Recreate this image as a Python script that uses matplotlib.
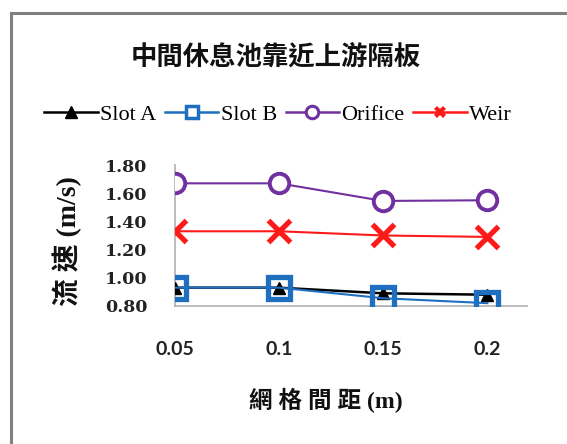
import matplotlib
matplotlib.use('Agg')
import matplotlib.pyplot as plt
from matplotlib.lines import Line2D
from matplotlib.patches import Rectangle

# data
spacing = ['0.05', '0.1', '0.15', '0.2']
slot_a = [0.93, 0.93, 0.89, 0.88]
slot_b = [0.93, 0.93, 0.855, 0.82]
orifice = [1.67, 1.67, 1.545, 1.55]
weir = [1.33, 1.33, 1.30, 1.29]
y_ticks = [0.80, 1.00, 1.20, 1.40, 1.60, 1.80]

title = '中間休息池靠近上游隔板'
xlabel = '網 格 間 距 (m)'
ylabel = '流 速 (m/s)'

cjk = ['Liberation Serif', 'Noto Sans CJK TC']

fig = plt.figure(figsize=(5.67, 4.44), dpi=100)
fig.patches.append(Rectangle((11 / 567, -0.1), 1.2, 1 - 13 / 444 + 0.1,
                             transform=fig.transFigure, fill=False,
                             edgecolor='#808080', linewidth=2.2))

ax = fig.add_axes([175 / 567, 1 - 306 / 444, (527 - 175) / 567, (306 - 165) / 444])
x = list(range(len(spacing)))

ax.plot(x, slot_a, color='black', lw=1.8, marker='^', ms=8, zorder=3)
ax.plot(x, slot_b, color='#1f6fc1', lw=1.5, marker='s', ms=16, mew=3.8,
        mfc='none', mec='#1f6fc1', zorder=4)
ax.plot(x, orifice, color='#7030a0', lw=1.5, marker='o', ms=14, mew=2.8,
        mfc='white', mec='#7030a0', zorder=3)
ax.plot(x, weir, color='#ff1a1a', lw=1.5, marker='x', ms=16, mew=3.8, zorder=3)

ax.set_xlim(0, 3.38)
ax.set_ylim(0.80, 1.80)
ax.set_xticks(x)
ax.set_xticklabels(spacing, family='Lato', fontsize=14, fontweight='bold', color='#222222')
ax.set_yticks(y_ticks)
ax.set_yticklabels([f'{v:.2f}' for v in y_ticks], family='DejaVu Serif',
                   fontsize=12.5, fontweight='bold', color='#222222')
ax.tick_params(axis='both', length=0)
ax.tick_params(axis='y', pad=20)
ax.tick_params(axis='x', pad=25)
for s in ['top', 'right']:
    ax.spines[s].set_visible(False)
for s in ['left', 'bottom']:
    ax.spines[s].set_color('#b0b0b0')
    ax.spines[s].set_linewidth(1.2)
ax.patch.set_visible(False)

fig.text(276 / 567, 1 - 57 / 444, title, ha='center', va='center',
         family=cjk, fontsize=19, fontweight='bold', color='#111111')
fig.text(326 / 567, 1 - 400 / 444, xlabel, ha='center', va='center',
         family=cjk, fontsize=17, fontweight='bold', color='#111111')
fig.text(67 / 567, 1 - 241 / 444, ylabel, ha='center', va='center', rotation=90,
         family=cjk, fontsize=20, fontweight='bold', color='#111111')

handles = [
    Line2D([], [], color='black', lw=1.8, marker='^', ms=8),
    Line2D([], [], color='#1f6fc1', lw=1.8, marker='s', ms=9, mew=2.5, mfc='white'),
    Line2D([], [], color='#7030a0', lw=1.8, marker='o', ms=9, mew=2.2, mfc='white'),
    Line2D([], [], color='#ff1a1a', lw=1.8, marker='X', ms=9, mew=0),
]
fig.legend(handles, ['Slot A', 'Slot B', 'Orifice', 'Weir'], loc='center',
           bbox_to_anchor=(278 / 567, 1 - 115 / 444), ncol=4, frameon=False,
           prop={'family': 'Liberation Serif', 'size': 16},
           handlelength=2.4, handletextpad=0.1, columnspacing=0.4,
           borderpad=0, borderaxespad=0)

fig.savefig('out.png', dpi=100)
